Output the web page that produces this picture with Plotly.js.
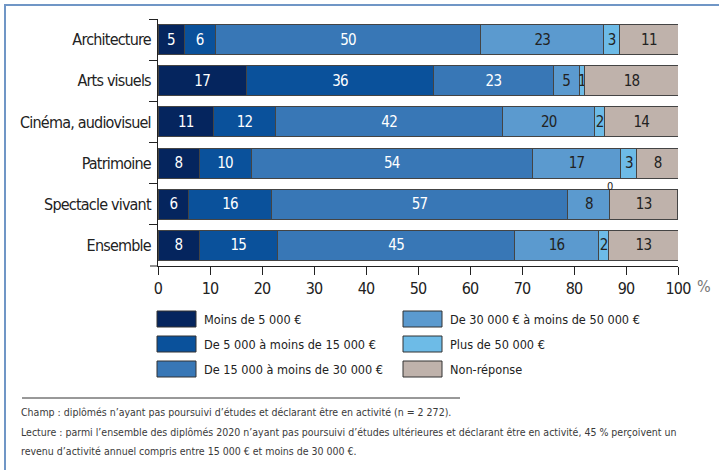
<!DOCTYPE html>
<html>
<head>
<meta charset="utf-8">
<script src="https://cdn.plot.ly/plotly-3.0.1.min.js"></script>
<style>
  html, body { margin: 0; padding: 0; background: #fff; }
  #wrap { position: relative; width: 719px; height: 470px; overflow: hidden; }
  #frame { position: absolute; left: 4px; top: 4px; width: 720px; height: 470px;
           border-top: 2px solid #7096c6; border-left: 2px solid #7096c6; }
  #chart { position: absolute; left: 0; top: 0; width: 719px; height: 470px; }
  #chart .xtick text, #chart .ytick text, #chart .bartext { letter-spacing: -0.05em; }
</style>
</head>
<body>
<div id="wrap">
  <div id="frame"></div>
  <div id="chart"></div>
</div>
<script>
// ---- Data ----
const categories = ["Architecture", "Arts visuels", "Cinéma, audiovisuel", "Patrimoine", "Spectacle vivant", "Ensemble"];
const seriesNames = ["Moins de 5 000 €", "De 5 000 à moins de 15 000 €", "De 15 000 à moins de 30 000 €",
                     "De 30 000 € à moins de 50 000 €", "Plus de 50 000 €", "Non-réponse"];
// bar lengths (%)
const moins5000    = [5.0, 17.0, 10.7, 7.9, 5.9, 7.9];
const de5a15000    = [6.0, 36.0, 11.9, 10.0, 15.9, 15.1];
const de15a30000   = [51.1, 23.0, 43.7, 54.1, 57.0, 45.6];
const de30a50000   = [23.6, 5.0, 17.7, 17.0, 8.1, 16.1];
const plus50000    = [3.1, 1.0, 1.9, 3.1, 0, 2.0];
const nonReponse   = [11.2, 18.1, 14.1, 8.0, 13.0, 13.3];
// printed labels
const lab1 = [5, 17, 11, 8, 6, 8];
const lab2 = [6, 36, 12, 10, 16, 15];
const lab3 = [50, 23, 42, 54, 57, 45];
const lab4 = [23, 5, 20, 17, 8, 16];
const lab5 = [3, 1, 2, 3, 0, 2];
const lab6 = [11, 18, 14, 8, 13, 13];
const xTicks = [0, 10, 20, 30, 40, 50, 60, 70, 80, 90, 100];

const values = [moins5000, de5a15000, de15a30000, de30a50000, plus50000, nonReponse];
const labels = [lab1, lab2, lab3, lab4, lab5, lab6];
const colors = ["#05255e", "#0a519b", "#3877b6", "#5b9acf", "#6dbbe7", "#bfb2ab"];
const textColors = ["#ffffff", "#ffffff", "#ffffff", "#222222", "#222222", "#222222"];

const FONT = '"DejaVu Sans Condensed", "Liberation Sans Narrow", sans-serif';

// ---- geometry helpers (pixel -> paper) ----
const W = 719, H = 470;
const M = { l: 158, r: 41, t: 19, b: 204 };
const pw = W - M.l - M.r, ph = H - M.t - M.b;
const px = x => (x - M.l) / pw;
const py = y => (H - M.b - y) / ph;

const traces = values.map((v, i) => ({
  type: 'bar',
  orientation: 'h',
  name: seriesNames[i],
  y: categories,
  x: v,
  text: labels[i].map((l, j) => (v[j] > 0 ? String(l) : '')),
  textposition: 'inside',
  insidetextanchor: 'middle',
  textangle: 0,
  constraintext: 'none',
  insidetextfont: { family: FONT, size: 15, color: textColors[i] },
  marker: { color: colors[i], line: { color: '#444', width: 1 } },
  hoverinfo: 'skip',
  showlegend: false
}));

const annotations = [];
const shapes = [];

// zero-valued labels printed above the bar
values.forEach((v, i) => {
  v.forEach((val, j) => {
    if (val === 0) {
      let cum = 0;
      for (let k = 0; k <= i; k++) cum += values[k][j];
      annotations.push({
        x: cum, y: categories[j], xref: 'x', yref: 'y',
        text: String(labels[i][j]), showarrow: false,
        yshift: 18, font: { family: FONT, size: 11, color: '#222' }
      });
    }
  });
});

// "%" unit after the axis
annotations.push({
  xref: 'paper', yref: 'paper', x: 1, y: 0, xanchor: 'left', yanchor: 'top',
  xshift: 17, yshift: -9, text: '%', showarrow: false,
  font: { family: FONT, size: 16, color: '#777' }
});

// extension of x axis line to the left
shapes.push({ type: 'line', xref: 'paper', yref: 'paper', x0: px(150), x1: 0, y0: 0, y1: 0,
  line: { color: '#222', width: 1 } });

// custom legend
const legCols = [157, 403];
const legRows = [319, 344, 369];
seriesNames.forEach((n, i) => {
  const col = Math.floor(i / 3), row = i % 3;
  const x0 = legCols[col], yc = legRows[row];
  shapes.push({
    type: 'rect', xref: 'paper', yref: 'paper',
    x0: px(x0), x1: px(x0 + 39), y0: py(yc + 8), y1: py(yc - 8),
    fillcolor: colors[i], line: { color: '#333', width: 1 }
  });
  annotations.push({
    xref: 'paper', yref: 'paper', x: px(x0 + 45), y: py(yc), xanchor: 'left', yanchor: 'middle',
    text: n, showarrow: false, font: { family: FONT, size: 12.6, color: '#222' }
  });
});

// footnote separator and text
shapes.push({ type: 'line', xref: 'paper', yref: 'paper', x0: px(22), x1: px(460), y0: py(398), y1: py(398),
  line: { color: '#333', width: 1 } });
const notes = [
  "Champ : diplômés n’ayant pas poursuivi d’études et déclarant être en activité (n = 2 272).",
  "Lecture : parmi l’ensemble des diplômés 2020 n’ayant pas poursuivi d’études ultérieures et déclarant être en activité, 45 % perçoivent un",
  "revenu d’activité annuel compris entre 15 000 € et moins de 30 000 €."
];
const noteY = [412, 432, 451];
notes.forEach((t, i) => {
  annotations.push({
    xref: 'paper', yref: 'paper', x: px(19), y: py(noteY[i]), xanchor: 'left', yanchor: 'middle',
    text: t, showarrow: false, font: { family: FONT, size: 10.5, color: '#3a3a3a' }
  });
});

const layout = {
  width: W, height: H,
  margin: M,
  paper_bgcolor: 'rgba(0,0,0,0)',
  plot_bgcolor: 'rgba(0,0,0,0)',
  barmode: 'stack',
  bargap: 0.27,
  showlegend: false,
  font: { family: FONT, color: '#222' },
  xaxis: {
    range: [0, 100], tickvals: xTicks, ticktext: xTicks.map(String),
    ticks: 'outside', ticklen: 8, tickcolor: '#222', showline: true, linecolor: '#222', linewidth: 1,
    showgrid: false, zeroline: false, fixedrange: true,
    tickfont: { family: FONT, size: 16, color: '#222' }
  },
  yaxis: {
    type: 'category', autorange: 'reversed', tickson: 'boundaries',
    ticks: 'outside', ticklen: 8, tickcolor: '#222', showline: true, linecolor: '#222', linewidth: 1,
    showgrid: false, zeroline: false, fixedrange: true, ticklabelstandoff: 3,
    tickfont: { family: FONT, size: 16, color: '#222' }
  },
  annotations: annotations,
  shapes: shapes
};

Plotly.newPlot('chart', traces, layout, { displayModeBar: false, staticPlot: true });
</script>
</body>
</html>
